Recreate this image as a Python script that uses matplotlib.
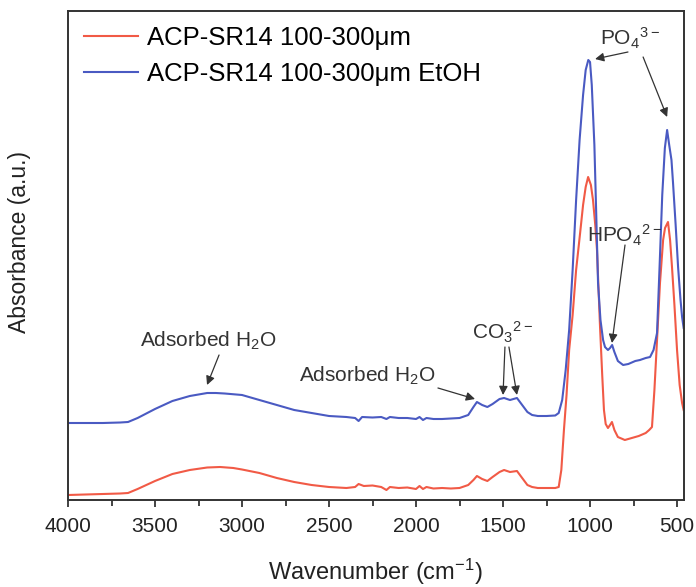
import matplotlib
matplotlib.use("Agg")
import matplotlib.pyplot as plt
from matplotlib.ticker import MultipleLocator

plt.rcParams["font.family"] = ["Liberation Sans", "DejaVu Sans"]
plt.rcParams["mathtext.default"] = "regular"

# FTIR spectra: wavenumber (cm-1) and absorbance (arbitrary units)
wn_blue = [4000, 3900, 3800, 3700, 3655, 3600, 3500, 3400, 3300, 3200, 3150, 3100,
           3000, 2900, 2800, 2700, 2600, 2500, 2400, 2350, 2330, 2310, 2250, 2200,
           2170, 2150, 2100, 2050, 2000, 1980, 1960, 1940, 1900, 1850, 1800, 1750,
           1700, 1670, 1650, 1620, 1590, 1560, 1520, 1494, 1460, 1420, 1390, 1360,
           1333, 1300, 1250, 1200, 1180, 1160, 1140, 1120, 1100, 1080, 1060, 1040,
           1025, 1010, 1000, 990, 975, 965, 954, 940, 925, 914, 897, 885, 873, 860,
           840, 810, 780, 740, 713, 680, 655, 635, 615, 600, 585, 570, 557, 545,
           532, 523, 508, 494, 480, 471, 462]
abs_blue = [0.77, 0.77, 0.77, 0.775, 0.78, 0.82, 0.91, 0.99, 1.04, 1.07, 1.07, 1.065,
            1.05, 1.00, 0.95, 0.90, 0.87, 0.84, 0.83, 0.82, 0.79, 0.83, 0.825, 0.83,
            0.81, 0.83, 0.82, 0.82, 0.81, 0.83, 0.80, 0.82, 0.81, 0.81, 0.815, 0.82,
            0.85, 0.93, 0.98, 0.95, 0.93, 0.96, 1.01, 1.02, 1.00, 1.02, 0.95, 0.88,
            0.85, 0.84, 0.84, 0.845, 0.87, 1.00, 1.30, 1.70, 2.30, 3.00, 3.60, 4.05,
            4.30, 4.40, 4.38, 4.15, 3.55, 2.90, 2.17, 1.80, 1.60, 1.53, 1.50, 1.52,
            1.55, 1.48, 1.39, 1.35, 1.36, 1.39, 1.40, 1.42, 1.43, 1.50, 1.67, 2.35,
            3.05, 3.52, 3.70, 3.55, 3.40, 3.17, 2.75, 2.33, 2.00, 1.83, 1.72]

wn_red = [4000, 3900, 3800, 3700, 3655, 3600, 3500, 3400, 3300, 3200, 3126, 3050,
          3000, 2900, 2800, 2700, 2600, 2500, 2400, 2350, 2330, 2300, 2250, 2200,
          2170, 2150, 2100, 2050, 2000, 1980, 1960, 1940, 1900, 1850, 1800, 1750,
          1700, 1670, 1650, 1620, 1590, 1560, 1520, 1494, 1460, 1420, 1390, 1360,
          1333, 1300, 1250, 1200, 1180, 1165, 1150, 1135, 1120, 1100, 1080, 1057,
          1040, 1025, 1011, 995, 983, 970, 960, 943, 930, 920, 910, 897, 885, 874,
          860, 840, 800, 760, 720, 680, 660, 644, 630, 615, 598, 580, 569, 552, 540,
          529, 515, 500, 485, 471, 462]
abs_red = [0.05, 0.055, 0.06, 0.065, 0.07, 0.11, 0.19, 0.26, 0.30, 0.325, 0.33, 0.32,
           0.305, 0.27, 0.22, 0.18, 0.15, 0.13, 0.12, 0.13, 0.16, 0.14, 0.145, 0.13,
           0.10, 0.13, 0.12, 0.125, 0.11, 0.14, 0.11, 0.13, 0.115, 0.12, 0.115, 0.12,
           0.15, 0.20, 0.24, 0.21, 0.19, 0.23, 0.28, 0.30, 0.28, 0.29, 0.22, 0.15,
           0.13, 0.12, 0.12, 0.12, 0.13, 0.30, 0.70, 1.05, 1.50, 1.85, 2.30, 2.67,
           2.95, 3.13, 3.23, 3.15, 3.00, 2.75, 2.50, 1.75, 1.25, 0.90, 0.76, 0.72,
           0.75, 0.78, 0.70, 0.63, 0.60, 0.62, 0.64, 0.67, 0.70, 0.73, 1.10, 1.60,
           2.17, 2.60, 2.72, 2.78, 2.60, 2.33, 1.95, 1.50, 1.15, 0.97, 0.90]

labels = ["ACP-SR14 100-300μm", "ACP-SR14 100-300μm EtOH"]
colors = ["#f15a46", "#4a5ac2"]

fig = plt.figure(figsize=(6.96, 5.87), dpi=100)
ax = fig.add_axes([68 / 696, 1 - 500 / 587, 616 / 696, 489 / 587])

ax.plot(wn_red, abs_red, color=colors[0], lw=1.5, label=labels[0])
ax.plot(wn_blue, abs_blue, color=colors[1], lw=1.5, label=labels[1])

ax.set_xlim(4000, 460)
ax.set_ylim(0, 4.89)
ax.xaxis.set_major_locator(MultipleLocator(500))
ax.xaxis.set_minor_locator(MultipleLocator(250))
ax.tick_params(axis="x", which="major", direction="out", length=5, width=1.2,
               labelsize=15, pad=7, colors="#222222")
ax.tick_params(axis="x", which="minor", direction="out", length=4, width=1.2,
               colors="#222222")
ax.set_yticks([])
for sp in ax.spines.values():
    sp.set_linewidth(1.4)
    sp.set_color("#333333")

fig.text(375 / 696, 1 - 572 / 587, "Wavenumber (cm$^{-1}$)", fontsize=17,
         color="#222222", ha="center", va="center")
fig.text(20 / 696, 1 - 242 / 587, "Absorbance (a.u.)", fontsize=16.5,
         color="#222222", ha="center", va="center", rotation=90)

ax.legend(loc="upper left", frameon=False, fontsize=18.5, handlelength=2.1,
          handletextpad=0.35, labelspacing=0.45, borderaxespad=0.0,
          bbox_to_anchor=(0.01, 0.99))

arrow = dict(arrowstyle="-|>", color="#333333", lw=0.9, mutation_scale=13,
             shrinkA=0, shrinkB=0)
tkw = dict(fontsize=15, color="#333333", ha="center", va="center")

# Phosphate bands
ax.text(770, 4.62, "PO$_4$$^{3-}$", **tkw)
ax.annotate("", xy=(971, 4.41), xytext=(782, 4.48), arrowprops=arrow)
ax.annotate("", xy=(557, 3.83), xytext=(695, 4.43), arrowprops=arrow)

ax.text(799, 2.65, "HPO$_4$$^{2-}$", **tkw)
ax.annotate("", xy=(874, 1.57), xytext=(799, 2.55), arrowprops=arrow)

# Carbonate bands
ax.text(1500, 1.68, "CO$_3$$^{2-}$", **tkw)
ax.annotate("", xy=(1500, 1.05), xytext=(1489, 1.53), arrowprops=arrow)
ax.annotate("", xy=(1420, 1.05), xytext=(1466, 1.53), arrowprops=arrow)

# Water bands
ax.text(2282, 1.24, "Adsorbed H$_2$O", **tkw)
ax.annotate("", xy=(1661, 1.01), xytext=(1874, 1.12), arrowprops=arrow)

ax.text(3195, 1.59, "Adsorbed H$_2$O", **tkw)
ax.annotate("", xy=(3201, 1.15), xytext=(3132, 1.45), arrowprops=arrow)

fig.savefig("out.png", dpi=100)
